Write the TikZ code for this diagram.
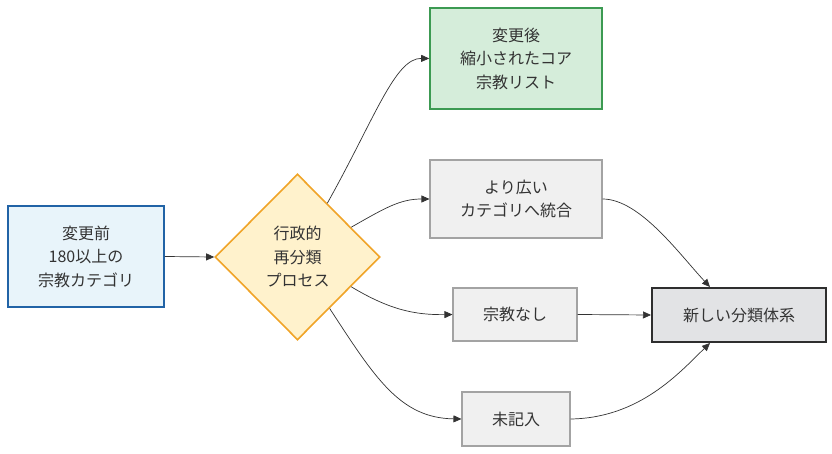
\documentclass[tikz,border=0pt]{standalone}
\usepackage{fontspec}
\setmainfont{Noto Sans CJK JP}
\usetikzlibrary{shapes.geometric,arrows.meta}
\definecolor{txt}{HTML}{333333}
\definecolor{edge}{HTML}{333333}
\definecolor{bluef}{HTML}{E8F4FA}
\definecolor{blued}{HTML}{2163A6}
\definecolor{yelf}{HTML}{FFF2CC}
\definecolor{yeld}{HTML}{F0A428}
\definecolor{grnf}{HTML}{D5EDDA}
\definecolor{grnd}{HTML}{3C9A52}
\definecolor{grayf}{HTML}{F0F0F0}
\definecolor{grayd}{HTML}{A3A3A3}
\definecolor{newf}{HTML}{E2E3E5}
\definecolor{newd}{HTML}{2E2E2E}
\tikzset{
  base/.style={draw, inner sep=0pt, text=txt, align=center,
    font=\fontsize{16}{23.5}\selectfont},
  boxblue/.style={base, fill=bluef, draw=blued, line width=1.6pt, minimum width=156pt, minimum height=101pt},
  boxgreen/.style={base, fill=grnf, draw=grnd, line width=1.6pt, minimum width=172pt, minimum height=101pt},
  boxgray/.style={base, fill=grayf, draw=grayd, line width=1.1pt},
  boxnew/.style={base, fill=newf, draw=newd, line width=2pt, minimum width=174pt, minimum height=54pt},
  decision/.style={base, diamond, aspect=1, fill=yelf, draw=yeld, line width=1.6pt, minimum width=165pt, minimum height=166pt},
  conn/.style={draw=edge, line width=0.7pt, -{Triangle[length=8pt,width=7pt]}}
}
\begin{document}
\begin{tikzpicture}[x=1pt,y=-1pt]
\useasboundingbox (0,0) rectangle (832,454);
\node[boxblue] (before) at (86,256.5) {変更前\\180以上の\\宗教カテゴリ};
\node[decision] (proc) at (297.5,257) {行政的\\再分類\\プロセス};
\node[boxgreen] (after) at (516,58.5) {変更後\\縮小されたコア\\宗教リスト};
\node[boxgray, minimum width=172pt, minimum height=78pt] (merge) at (516,199) {より広い\\カテゴリへ統合};
\node[boxgray, minimum width=124pt, minimum height=53pt] (none) at (515,314.5) {宗教なし};
\node[boxgray, minimum width=108pt, minimum height=54pt] (unf) at (516,419) {未記入};
\node[boxnew] (new) at (739,315) {新しい分類体系};

\draw[conn] (before.east) -- (proc.west);
\draw[conn] (proc.61.8) .. controls (375,118) and (395,58) .. (after.west);
\draw[conn] (proc.29.6) .. controls (385,208) and (400,199) .. (merge.west);
\draw[conn] (proc.-29.6) .. controls (390,310) and (415,315) .. (none.west);
\draw[conn] (proc.-58.5) .. controls (375,378) and (400,418) .. (unf.west);
\draw[conn] (merge.east) .. controls (640,199) and (680,255) .. ([xshift=-29pt]new.north);
\draw[conn] (none.east) -- (new.west);
\draw[conn] (unf.east) .. controls (640,418) and (680,372) .. ([xshift=-29pt]new.south);
\end{tikzpicture}
\end{document}
